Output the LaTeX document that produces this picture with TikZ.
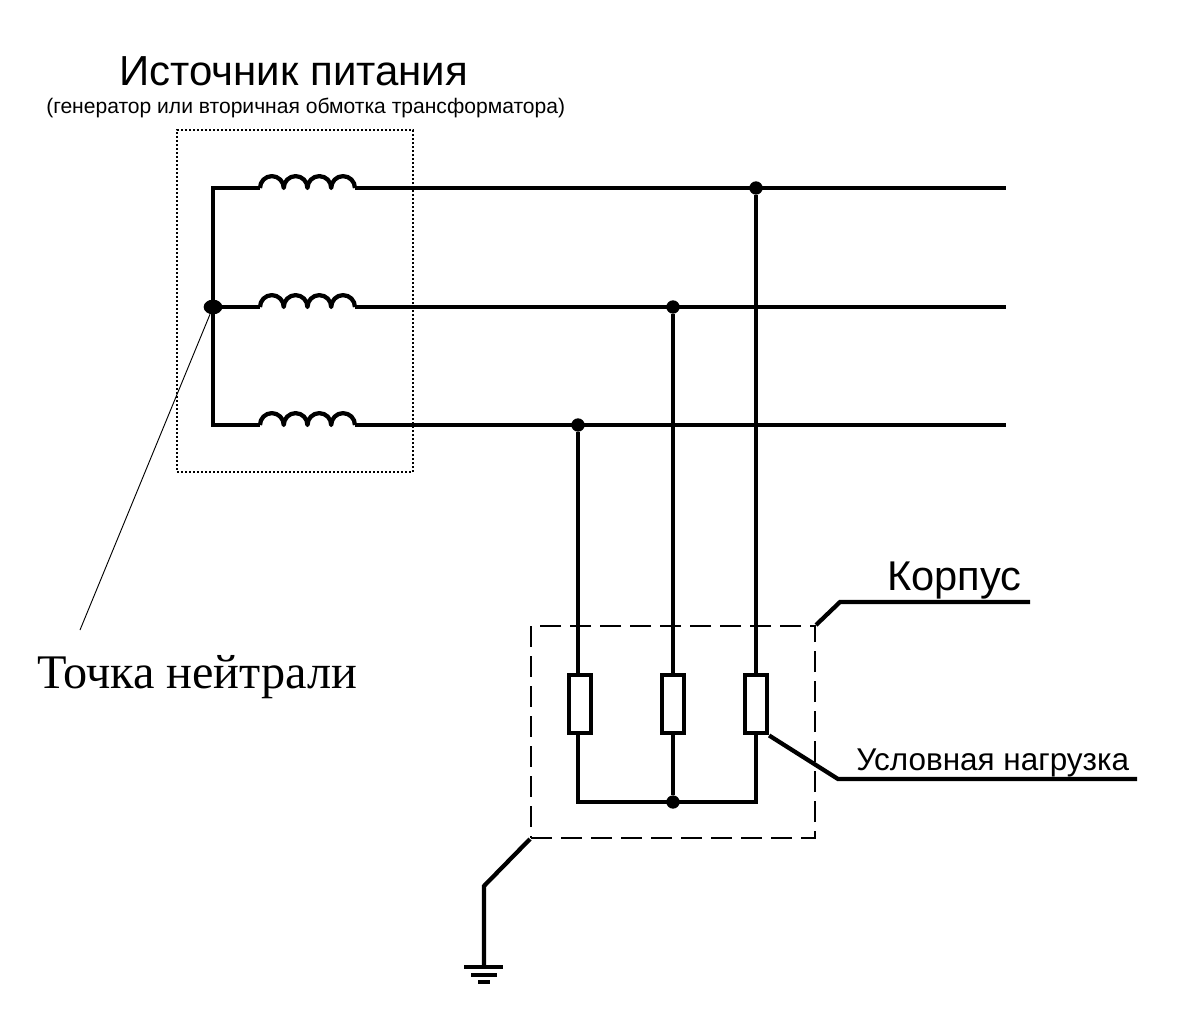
\documentclass[tikz,border=0pt]{standalone}
\usepackage{fontspec}
\setmainfont{Liberation Sans}
\newfontfamily\serifcyr{Liberation Serif}
\usetikzlibrary{shapes.geometric}
\tikzset{
  wire/.style={line width=3.2pt,line join=miter},
  thinwire/.style={line width=3pt},
  leader/.style={line width=0.7pt},
  dotbox/.style={line width=0.9pt,dash pattern=on 1.5pt off 1.5pt},
  dashbox/.style={line width=1.5pt,dash pattern=on 16pt off 6.5pt},
  junction/.style={circle,fill=black,inner sep=0pt,minimum size=10pt},
  bigjunction/.style={ellipse,fill=black,inner sep=0pt,minimum width=14pt,minimum height=11pt},
  loadbox/.style={draw,line width=3.2pt,fill=white,inner sep=0pt,minimum width=16.5pt,minimum height=44pt},
  txt/.style={inner sep=0pt,anchor=base west},
  pics/coil/.style={code={\draw[wire,line join=round] (0,0) arc[start angle=180,end angle=0,radius=8.9pt]
     arc[start angle=180,end angle=0,radius=8.9pt]
     arc[start angle=180,end angle=0,radius=8.9pt]
     arc[start angle=180,end angle=0,radius=8.9pt];}}
}
\begin{document}
\begin{tikzpicture}[x=0.75pt,y=-0.75pt]
\useasboundingbox (0,0) rectangle (1181,1029);
% coordinates
\coordinate (tl) at (213,188); \coordinate (bl) at (213,425);
\coordinate (c1a) at (260,188); \coordinate (c1b) at (355,188);
\coordinate (c2a) at (260,307); \coordinate (c2b) at (355,307);
\coordinate (c3a) at (260,425); \coordinate (c3b) at (355,425);
\coordinate (e1) at (1006,188); \coordinate (e2) at (1006,307); \coordinate (e3) at (1006,425);
% boxes
\node[dotbox,draw,inner sep=0pt,minimum width=177pt,minimum height=256.5pt] (src) at (295,301) {};
\node[dashbox,draw,inner sep=0pt,minimum width=213pt,minimum height=159pt] (body) at (673,732) {};
% windings
\draw[wire] (c1a) -- (tl) -- (bl) -- (c3a);
\pic at (c1a) {coil}; \pic at (c2a) {coil}; \pic at (c3a) {coil};
\draw[wire] (c1b) -- (e1);
\draw[wire] (c2a) -- (213,307);
\draw[wire] (c2b) -- (e2);
\draw[wire] (c3b) -- (e3);
% junctions
\node[junction] (j1) at (756,188) {};
\node[junction] (j2) at (673,307) {};
\node[junction] (j3) at (578,425) {};
\node[junction] (jb) at (673,802) {};
\node[bigjunction] (n) at (213,307) {};
% loads
\node[loadbox] (r1) at (580,704) {};
\node[loadbox] (r2) at (673,704) {};
\node[loadbox] (r3) at (756,704) {};
\draw[thinwire] (j3) -- (578,673);
\draw[wire] (j2) -- (r2.north);
\draw[thinwire] (j1) -- (r3.north);
\draw[thinwire] (578,735) |- (jb.center);
\draw[wire] (r2.south) -- (jb);
\draw[thinwire] (756,735) |- (jb.center);
% leaders
\coordinate (nl) at (80,630);
\draw[leader] (n) -- (nl);
\coordinate (k1) at (840,602); \coordinate (k2) at (1030,602);
\draw[wire] (body.north east) -- (k1) -- (k2);
\coordinate (u1) at (838,779); \coordinate (u2) at (1137,779);
\draw[wire] (r3.south east) -- (u1) -- (u2);
% ground
\coordinate (g1) at (484,886); \coordinate (g2) at (484,967);
\draw[wire] (body.south west) -- (g1) -- (g2);
\coordinate (ga) at (464,967); \coordinate (gb) at (503,967);
\coordinate (gc) at (471,975); \coordinate (gd) at (497,975);
\coordinate (ge) at (478,982); \coordinate (gf) at (490,982);
\draw[wire] (ga) -- (gb); \draw[wire] (gc) -- (gd); \draw[wire] (ge) -- (gf);
% text
\node[txt,font=\fontsize{31.5pt}{31.5pt}\selectfont] (t1) at (119,85) {Источник питания};
\node[txt,font=\fontsize{15.8pt}{15.8pt}\selectfont] (t2) at (46,113) {(генератор или вторичная обмотка трансформатора)};
\node[txt,font=\fontsize{36.2pt}{36.2pt}\selectfont\serifcyr] (t3) at (37,688) {Точка нейтрали};
\node[txt,font=\fontsize{31.2pt}{31.2pt}\selectfont] (t4) at (887,590) {Корпус};
\node[txt,font=\fontsize{23.6pt}{23.6pt}\selectfont] (t5) at (856,770) {Условная нагрузка};
\end{tikzpicture}
\end{document}
